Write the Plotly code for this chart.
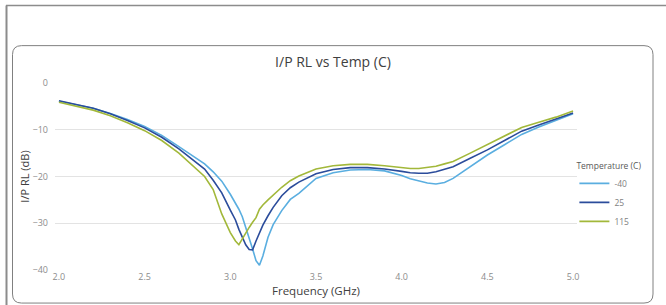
import plotly.graph_objects as go

# ---------------- data ----------------
freq_ghz = [2.0, 2.1, 2.2, 2.3, 2.4, 2.5, 2.6, 2.7, 2.8, 2.85, 2.9, 2.95, 3.0, 3.03, 3.05,
            3.07, 3.09, 3.11, 3.13, 3.15, 3.17, 3.19, 3.22, 3.25, 3.3, 3.35, 3.4, 3.5, 3.6,
            3.7, 3.8, 3.9, 4.0, 4.05, 4.1, 4.15, 4.2, 4.25, 4.3, 4.4, 4.5, 4.6, 4.7, 4.8,
            4.9, 5.0]

rl_m40 = [-3.9, -4.6, -5.4, -6.5, -7.8, -9.3, -11.2, -13.6, -16.0, -17.3, -19.0, -21.0,
          -23.8, -25.6, -27.0, -28.6, -30.8, -33.2, -35.5, -38.0, -39.0, -37.0, -33.0,
          -30.3, -27.3, -24.9, -23.6, -20.4, -19.2, -18.6, -18.5, -18.8, -19.8, -20.5,
          -21.0, -21.4, -21.6, -21.3, -20.4, -17.9, -15.4, -13.2, -11.0, -9.4, -8.0, -6.6]

rl_25 = [-3.8, -4.6, -5.4, -6.6, -8.0, -9.6, -11.6, -14.1, -16.9, -18.4, -20.8, -23.5,
         -27.2, -29.3, -31.3, -33.0, -34.6, -35.6, -35.7, -33.8, -32.0, -30.4, -28.4,
         -26.6, -24.1, -22.4, -21.2, -19.4, -18.5, -18.1, -18.1, -18.4, -18.9, -19.2,
         -19.3, -19.3, -19.0, -18.5, -17.9, -16.1, -14.3, -12.3, -10.3, -9.0, -7.7, -6.4]

rl_115 = [-4.1, -4.9, -5.8, -7.0, -8.5, -10.2, -12.3, -15.0, -18.2, -20.0, -22.8, -28.0,
          -32.0, -33.8, -34.6, -33.3, -31.9, -30.9, -29.8, -28.8, -27.0, -26.1, -25.0,
          -24.0, -22.3, -20.9, -19.9, -18.4, -17.7, -17.4, -17.4, -17.7, -18.1, -18.3,
          -18.3, -18.1, -17.8, -17.3, -16.8, -15.0, -13.2, -11.3, -9.5, -8.4, -7.3, -6.0]

series_names = ["-40", "25", "115"]
series_values = [rl_m40, rl_25, rl_115]
series_colors = ["#5aaee0", "#2b4c9b", "#a2b83a"]

x_ticks = [2.0, 2.5, 3.0, 3.5, 4.0, 4.5, 5.0]
y_ticks = [0, -10, -20, -30, -40]

# ---------------- figure ----------------
W, H = 666, 305
L, R, T, B = 55, 577, 83.3, 270  # plot area in pixels

fig = go.Figure()
for name, vals, col in zip(series_names, series_values, series_colors):
    fig.add_trace(go.Scatter(x=freq_ghz, y=vals, name=name, mode="lines",
                             line=dict(color=col, width=1.6)))

def px2x(px):
    return (px - L) / (R - L)

def py2y(py):
    return (B - py) / (B - T)

# rounded chart frame
x0, x1 = px2x(12.5), px2x(653)
yt, yb = py2y(46), py2y(303)
rx = 9 / (R - L)
ry = 9 / (B - T)
frame_path = (f"M{x0+rx},{yt} L{x1-rx},{yt} Q{x1},{yt} {x1},{yt-ry} "
              f"L{x1},{yb+ry} Q{x1},{yb} {x1-rx},{yb} L{x0+rx},{yb} "
              f"Q{x0},{yb} {x0},{yb+ry} L{x0},{yt-ry} Q{x0},{yt} {x0+rx},{yt} Z")

shapes = [
    dict(type="path", xref="paper", yref="paper", path=frame_path,
         line=dict(color="#808080", width=1), layer="below"),
    dict(type="line", xref="paper", yref="paper", x0=px2x(6), x1=px2x(666),
         y0=py2y(6), y1=py2y(6), line=dict(color="#8c8c8c", width=1.5)),
    dict(type="line", xref="paper", yref="paper", x0=px2x(6.5), x1=px2x(6.5),
         y0=py2y(6), y1=py2y(305), line=dict(color="#8c8c8c", width=2)),
]

font_family = "Segoe UI, Open Sans, Noto Sans, sans-serif"

fig.update_layout(
    width=W, height=H,
    margin=dict(l=L, r=W - R, t=T, b=H - B, autoexpand=False),
    paper_bgcolor="white", plot_bgcolor="white",
    font=dict(family=font_family, color="#595959"),
    title=dict(text="I/P RL vs Temp (C)", x=333 / W, xanchor="center",
               y=1 - 62 / H, yanchor="middle", yref="container",
               font=dict(size=14, color="#404040")),
    shapes=shapes,
    showlegend=True,
    legend=dict(x=0.995, xanchor="left", y=py2y(158), yanchor="top",
                title=dict(text="Temperature (C)", font=dict(size=8.5, color="#595959")),
                font=dict(size=8.5, color="#7f7f7f"), itemwidth=30,
                bgcolor="rgba(0,0,0,0)", tracegroupgap=0),
    xaxis=dict(range=[1.977, 5.023], tickvals=x_ticks, tickformat=".1f",
               showgrid=False, zeroline=False, showline=False, ticks="",
               tickfont=dict(size=9, color="#8c8c8c"),
               title=dict(text="Frequency (GHz)", font=dict(size=11.5, color="#404040"),
                          standoff=4)),
    yaxis=dict(range=[-40, 0], tickvals=y_ticks, showgrid=True, gridcolor="#e3e3e3",
               gridwidth=1, zeroline=False, showline=False, ticks="",
               tickfont=dict(size=9, color="#8c8c8c"), ticklabelstandoff=6,
               title=dict(text="I/P RL (dB)", font=dict(size=11, color="#404040"),
                          standoff=0)),
)

fig.write_html("out.html", config={"displayModeBar": False},
               post_script="document.body.style.margin='0';document.body.style.padding='0';")
